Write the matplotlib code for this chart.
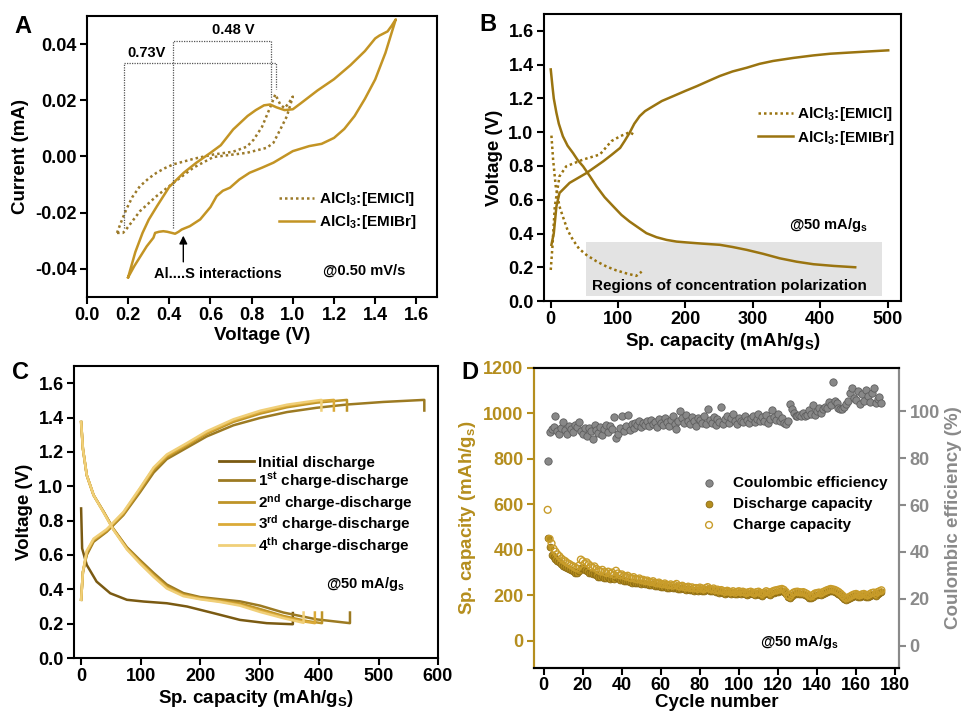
import matplotlib
matplotlib.use('Agg')
import matplotlib.pyplot as plt
from matplotlib.lines import Line2D
from matplotlib.patches import Rectangle

plt.rcParams['font.family'] = ['Liberation Sans', 'DejaVu Sans']
plt.rcParams['font.weight'] = 'bold'
plt.rcParams['axes.labelweight'] = 'bold'
plt.rcParams['axes.unicode_minus'] = False
plt.rcParams['mathtext.fontset'] = 'custom'
plt.rcParams['mathtext.rm'] = 'Liberation Sans:bold'
plt.rcParams['mathtext.it'] = 'Liberation Sans:bold'
plt.rcParams['mathtext.bf'] = 'Liberation Sans:bold'
plt.rcParams['mathtext.default'] = 'rm'

# ---------------- A: cyclic voltammetry ----------------
emibr_v = [0.200, 0.23, 0.26, 0.29, 0.323, 0.331, 0.35, 0.371, 0.39, 0.412, 0.428, 0.445, 0.46,
           0.50, 0.55, 0.60, 0.63, 0.66, 0.695, 0.74, 0.79, 0.85, 0.906, 1.0, 1.08, 1.14, 1.2,
           1.25, 1.3, 1.35, 1.4, 1.45, 1.50,
           1.48, 1.46, 1.42, 1.40, 1.35, 1.28, 1.20, 1.12, 1.04, 1.0, 0.96, 0.92, 0.89, 0.86,
           0.82, 0.78, 0.71, 0.65, 0.60, 0.53, 0.47, 0.40, 0.34, 0.30, 0.27, 0.235, 0.2]
emibr_i = [-0.043, -0.039, -0.0355, -0.032, -0.0289, -0.0272, -0.0268, -0.0266, -0.0268, -0.0272,
           -0.0275, -0.0268, -0.026, -0.0248, -0.0224, -0.018, -0.0141, -0.0122, -0.0111, -0.0082,
           -0.0058, -0.0040, -0.0022, 0.0019, 0.0037, 0.0045, 0.0066, 0.0098, 0.0144, 0.0205,
           0.0274, 0.0369, 0.0488,
           0.0465, 0.0445, 0.0430, 0.0420, 0.0375, 0.0325, 0.0275, 0.0235, 0.0190, 0.0168, 0.0165,
           0.0175, 0.0185, 0.0182, 0.0165, 0.0144, 0.0096, 0.0040, 0.0013, -0.0023, -0.0058,
           -0.0108, -0.0177, -0.0225, -0.0272, -0.034, -0.043]
emicl_v = [0.146, 0.165, 0.19, 0.22, 0.257, 0.30, 0.338, 0.38, 0.42, 0.52, 0.614, 0.71, 0.777,
           0.81, 0.85, 0.89, 0.915, 0.939, 0.96, 0.98, 1.0,
           0.971, 0.939, 0.906, 0.874, 0.777, 0.614, 0.517, 0.42, 0.338, 0.257, 0.19, 0.175, 0.146]
emicl_i = [-0.0272, -0.0235, -0.019, -0.0145, -0.0106, -0.0078, -0.0058, -0.0041, -0.0028, -0.0008,
           0.0007, 0.0017, 0.0035, 0.006, 0.0105, 0.0175, 0.0221, 0.0185, 0.0172, 0.019, 0.0213,
           0.0143, 0.0096, 0.0049, 0.0031, 0.0013, -0.0002, -0.004, -0.0094, -0.0141, -0.0195,
           -0.026, -0.0272, -0.0272]
bracket_073 = ([0.179, 0.179, 0.919, 0.919], [-0.0254, 0.0331, 0.0331, 0.0239])
bracket_048 = ([0.416, 0.416, 0.893, 0.893], [-0.0254, 0.0411, 0.0411, 0.0203])

# ---------------- B: charge/discharge profiles ----------------
b_br_ch_cap = [1, 4.5, 8.4, 13, 28, 53, 78, 90, 103, 110, 117, 124, 132, 140, 152, 165, 182, 200,
               217, 235, 251, 270, 291, 310, 330, 360, 390, 415, 440, 470, 501]
b_br_ch_v = [0.333, 0.40, 0.56, 0.64, 0.70, 0.758, 0.828, 0.865, 0.907, 0.95, 0.996, 1.05, 1.095,
             1.125, 1.154, 1.185, 1.214, 1.245, 1.273, 1.305, 1.333, 1.36, 1.382, 1.405, 1.422,
             1.44, 1.455, 1.465, 1.471, 1.478, 1.485]
b_br_dis_cap = [0, 2.5, 4.5, 8.4, 12, 18, 25, 33, 40, 48, 58, 68, 80, 93, 105, 117, 130, 142,
                157, 172, 187, 202, 225, 251, 270, 291, 315, 340, 365, 390, 420, 452]
b_br_dis_v = [1.372, 1.273, 1.2, 1.115, 1.05, 0.976, 0.92, 0.877, 0.835, 0.798, 0.74, 0.679, 0.615,
              0.56, 0.51, 0.471, 0.435, 0.402, 0.378, 0.362, 0.352, 0.347, 0.34, 0.333, 0.32,
              0.303, 0.28, 0.253, 0.233, 0.218, 0.208, 0.2]
b_cl_ch_cap = [0, 2.5, 6, 13, 23, 48, 73, 90, 103, 117, 126]
b_cl_ch_v = [0.184, 0.323, 0.56, 0.739, 0.798, 0.838, 0.868, 0.947, 0.976, 1.0, 0.98]
b_cl_dis_cap = [1, 3.5, 7.4, 13, 18, 25, 33, 42, 53, 68, 83, 97, 112, 127, 135]
b_cl_dis_v = [0.98, 0.838, 0.68, 0.56, 0.50, 0.42, 0.362, 0.31, 0.273, 0.235, 0.204, 0.182, 0.164,
              0.149, 0.174]

# ---------------- C: first cycles ----------------
c_labels = ['Initial discharge', '1$^{st}$ charge-discharge', '2$^{nd}$ charge-discharge',
            '3$^{rd}$ charge-discharge', '4$^{th}$ charge-discharge']
c_colors = ['#7A5A12', '#9C7A22', '#BE9428', '#DBAA38', '#F0CF78']
c_ch_cap = [
    None,
    [0, 3, 9.5, 21, 43, 71, 99, 122, 144, 178, 211, 256, 301, 346, 396, 447, 508, 577, 577],
    [0, 3, 9.5, 21, 43, 71, 99, 122, 144, 178, 211, 256, 301, 346, 396, 447, 447],
    [0, 3, 9.5, 21, 43, 71, 99, 122, 144, 178, 211, 256, 301, 346, 396, 425, 425],
    [0, 3, 9.5, 21, 43, 71, 99, 122, 144, 178, 211, 256, 301, 346, 380, 404, 404],
]
c_ch_v = [
    None,
    [0.339, 0.50, 0.60, 0.677, 0.735, 0.832, 0.965, 1.08, 1.158, 1.225, 1.29, 1.355, 1.398, 1.432,
     1.457, 1.476, 1.491, 1.503, 1.441],
    [0.339, 0.50, 0.61, 0.685, 0.74, 0.838, 0.975, 1.095, 1.17, 1.238, 1.305, 1.375, 1.423, 1.46,
     1.487, 1.503, 1.441],
    [0.339, 0.50, 0.62, 0.69, 0.745, 0.845, 0.985, 1.105, 1.178, 1.245, 1.312, 1.383, 1.432, 1.468,
     1.495, 1.503, 1.441],
    [0.339, 0.50, 0.625, 0.695, 0.75, 0.85, 0.99, 1.11, 1.185, 1.252, 1.32, 1.39, 1.44, 1.475,
     1.492, 1.503, 1.441],
]
c_dis_cap = [
    [0, 1.7, 9.5, 26, 49, 77, 105, 144, 178, 223, 267, 312, 354, 356, 356],
    [0, 3, 9.5, 21, 38, 54, 77, 99, 122, 144, 172, 200, 234, 267, 301, 340, 396, 452, 452],
    [0, 3, 9.5, 21, 38, 54, 77, 99, 122, 144, 172, 200, 234, 267, 301, 340, 380, 405, 405],
    [0, 3, 9.5, 21, 38, 54, 77, 99, 122, 144, 172, 200, 234, 267, 301, 340, 370, 393, 393],
    [0, 3, 9.5, 21, 38, 54, 77, 99, 122, 144, 172, 200, 234, 267, 301, 340, 374, 374],
]
c_dis_v = [
    [0.871, 0.638, 0.542, 0.445, 0.377, 0.339, 0.329, 0.319, 0.30, 0.261, 0.222, 0.203, 0.197,
     0.197, 0.262],
    [1.374, 1.219, 1.064, 0.948, 0.851, 0.754, 0.645, 0.57, 0.495, 0.428, 0.378, 0.355, 0.342,
     0.33, 0.305, 0.265, 0.225, 0.203, 0.265],
    [1.374, 1.219, 1.064, 0.948, 0.85, 0.752, 0.64, 0.562, 0.485, 0.418, 0.37, 0.35, 0.335,
     0.318, 0.285, 0.245, 0.215, 0.203, 0.265],
    [1.374, 1.219, 1.064, 0.948, 0.848, 0.75, 0.636, 0.556, 0.478, 0.41, 0.365, 0.345, 0.33,
     0.31, 0.275, 0.238, 0.215, 0.203, 0.265],
    [1.374, 1.219, 1.064, 0.948, 0.846, 0.748, 0.632, 0.55, 0.472, 0.405, 0.36, 0.342, 0.326,
     0.305, 0.268, 0.232, 0.205, 0.265],
]

# ---------------- D: cycling ----------------
cycles = list(range(2, 174))
ce = [78.7, 91.0, 92.5, 93.5, 98.2, 91.8, 90.5, 93.0, 95.5, 92.0,
      90.2, 93.8, 92.5, 91.0, 94.0, 93.2, 95.6, 91.5, 90.2, 92.8,
      89.5, 93.0, 91.8, 88.4, 94.2, 92.0, 90.8, 93.5, 89.8, 92.6,
      94.0, 91.2, 93.8, 92.5, 97.4, 88.6, 90.5, 92.8, 97.9, 91.5,
      93.6, 98.6, 92.2, 94.5, 93.0, 95.2, 94.0, 96.0, 93.5, 95.0,
      94.2, 95.8, 93.8, 96.2, 94.8, 95.5, 93.2, 96.8, 95.0, 94.2,
      97.2, 95.5, 93.8, 96.5, 97.8, 94.6, 92.5, 96.0, 100.0, 97.0,
      95.2, 98.5, 96.0, 94.8, 97.5, 95.8, 93.6, 97.2, 96.5, 95.0,
      97.8, 94.5, 101.0, 96.2, 95.0, 97.5, 94.0, 96.8, 95.5, 101.7,
      94.8, 96.6, 98.0, 95.2, 97.0, 99.0, 96.0, 94.8, 97.2, 96.0,
      95.5, 97.8, 96.2, 95.0, 97.0, 98.2, 95.6, 96.8, 99.0, 95.8,
      97.4, 96.0, 98.5, 95.2, 96.8, 100.7, 97.5, 96.2, 98.8, 95.8,
      97.2, 95.0, 94.6, 96.0, 103.0, 101.0, 99.5, 98.2, 97.8, 98.5,
      98.0, 99.2, 97.8, 98.5, 100.5, 99.0, 102.8, 98.6, 100.0, 101.5,
      99.2, 100.8, 102.0, 101.5, 103.8, 102.6, 112.5, 104.5, 103.5, 101.4,
      100.8, 101.0, 102.0, 103.2, 104.5, 108.0, 110.0, 105.5, 104.8, 108.5,
      103.0, 107.5, 104.2, 109.0, 106.5, 104.0, 108.0, 110.0, 103.5, 105.2,
      106.0, 103.5]
charge_cap = [576, 448, 428, 405, 392, 380, 372, 362, 355, 350,
              342, 338, 332, 328, 322, 318, 330, 357, 350, 340,
              345, 336, 328, 322, 327, 316, 310, 305, 312, 302,
              298, 304, 295, 300, 290, 308, 296, 288, 292, 285,
              282, 286, 278, 275, 280, 272, 270, 274, 266, 268,
              262, 265, 260, 258, 262, 255, 252, 256, 250, 248,
              252, 246, 244, 248, 242, 245, 250, 240, 238, 242,
              236, 234, 238, 232, 235, 230, 232, 228, 234, 230,
              226, 232, 236, 228, 226, 230, 222, 225, 220, 223,
              218, 215, 220, 216, 214, 218, 212, 215, 218, 214,
              216, 212, 210, 214, 216, 212, 208, 214, 216, 210,
              206, 212, 218, 214, 210, 216, 220, 222, 224, 226,
              228, 224, 215, 200, 195, 205, 212, 215, 216, 214,
              212, 214, 210, 205, 198, 195, 202, 208, 210, 212,
              208, 214, 218, 222, 225, 228, 226, 224, 220, 215,
              208, 200, 192, 186, 190, 195, 200, 204, 206, 202,
              200, 204, 206, 202, 200, 205, 210, 212, 206, 214,
              218, 222]
discharge_cap = [452, 412, 378, 368, 358, 350, 345, 338, 330, 324,
                 318, 315, 310, 306, 300, 296, 305, 320, 318, 310,
                 305, 300, 296, 292, 295, 288, 282, 280, 284, 278,
                 275, 280, 272, 276, 270, 282, 274, 268, 270, 264,
                 262, 265, 258, 256, 260, 254, 252, 255, 250, 252,
                 248, 250, 246, 244, 248, 242, 240, 243, 238, 236,
                 240, 234, 232, 236, 230, 233, 238, 229, 227, 230,
                 226, 224, 228, 222, 225, 220, 223, 219, 224, 221,
                 218, 223, 226, 220, 218, 222, 214, 217, 212, 215,
                 210, 207, 212, 208, 206, 210, 204, 207, 210, 206,
                 208, 204, 202, 206, 208, 204, 200, 206, 208, 202,
                 198, 204, 210, 206, 202, 208, 212, 214, 216, 218,
                 220, 216, 207, 192, 187, 197, 204, 207, 208, 206,
                 204, 206, 202, 197, 190, 187, 194, 200, 202, 204,
                 200, 206, 210, 214, 217, 220, 218, 216, 212, 207,
                 200, 192, 184, 178, 182, 187, 192, 196, 198, 194,
                 192, 196, 198, 194, 192, 197, 202, 204, 198, 206,
                 210, 214]

GOLD_A = '#C39424'
GOLD_A_DOT = '#9C7A2A'
GOLD_B = '#9A7410'
GOLD_D = '#B58E1E'
GRAY_D = '#8A8A8A'


def style_axes(ax):
    for s in ax.spines.values():
        s.set_linewidth(1.5)
    ax.tick_params(direction='out', length=5, width=1.5, labelsize=13, pad=2.5,
                   top=False, right=False)


fig = plt.figure(figsize=(9.62, 7.13), dpi=100)

# ---- A ----
axA = fig.add_axes([0.0904, 0.5835, 0.3638, 0.3941])
axA.plot(emicl_v, emicl_i, color=GOLD_A_DOT, lw=1.8, ls=(0, (1, 1.2)), label='AlCl$_3$:[EMICl]')
axA.plot(emibr_v, emibr_i, color=GOLD_A, lw=1.8, label='AlCl$_3$:[EMIBr]')
axA.plot(*bracket_073, color='#555555', lw=0.9, ls=(0, (1, 1)))
axA.plot(*bracket_048, color='#555555', lw=0.9, ls=(0, (1, 1)))
axA.text(0.29, 0.0369, '0.73V', fontsize=10.5, ha='center', va='center')
axA.text(0.711, 0.045, '0.48 V', fontsize=10.5, ha='center', va='center')
axA.annotate('', xy=(0.468, -0.0272), xytext=(0.468, -0.0385),
             arrowprops=dict(arrowstyle='-|>', color='black', lw=1.0, mutation_scale=12))
axA.text(0.638, -0.0417, 'Al....S interactions', fontsize=10.5, ha='center', va='center')
axA.text(1.345, -0.0405, '@0.50 mV/s', fontsize=10.5, ha='center', va='center')
axA.set_xlim(0, 1.7)
axA.set_ylim(-0.05, 0.05)
axA.set_xticks([0.0, 0.2, 0.4, 0.6, 0.8, 1.0, 1.2, 1.4, 1.6])
axA.set_xticklabels(['0.0', '0.2', '0.4', '0.6', '0.8', '1.0', '1.2', '1.4', '1.6'])
axA.set_yticks([-0.04, -0.02, 0.0, 0.02, 0.04])
axA.set_yticklabels(['-0.04', '-0.02', '0.00', '0.02', '0.04'])
axA.set_xlabel('Voltage (V)', fontsize=13.5, labelpad=2)
axA.set_ylabel('Current (mA)', fontsize=13.5)
style_axes(axA)
axA.legend(loc='upper left', bbox_to_anchor=(0.51, 0.43), frameon=False, fontsize=11,
           handlelength=2.3, handletextpad=0.3, labelspacing=0.35)

# ---- B ----
axB = fig.add_axes([0.5655, 0.5778, 0.3711, 0.4025])
axB.add_patch(Rectangle((52, 0.032), 440, 0.317, facecolor='#E3E3E3', edgecolor='none', zorder=0))
axB.plot(b_cl_dis_cap, b_cl_dis_v, color=GOLD_B, lw=1.8, ls=(0, (1, 1.2)))
axB.plot(b_cl_ch_cap, b_cl_ch_v, color=GOLD_B, lw=1.8, ls=(0, (1, 1.2)), label='AlCl$_3$:[EMICl]')
axB.plot(b_br_dis_cap, b_br_dis_v, color=GOLD_B, lw=1.8)
axB.plot(b_br_ch_cap, b_br_ch_v, color=GOLD_B, lw=1.8, label='AlCl$_3$:[EMIBr]')
axB.text(265, 0.089, 'Regions of concentration polarization', fontsize=11, ha='center', va='center')
axB.text(412, 0.45, '@50 mA/g$_s$', fontsize=10.5, ha='center', va='center')
axB.set_xlim(-10, 520)
axB.set_ylim(0, 1.7)
axB.set_xticks([0, 100, 200, 300, 400, 500])
axB.set_yticks([0.0, 0.2, 0.4, 0.6, 0.8, 1.0, 1.2, 1.4, 1.6])
axB.set_yticklabels(['0.0', '0.2', '0.4', '0.6', '0.8', '1.0', '1.2', '1.4', '1.6'])
axB.set_xlabel('Sp. capacity (mAh/g$_S$)', fontsize=13.5, labelpad=2)
axB.set_ylabel('Voltage (V)', fontsize=13.5)
style_axes(axB)
axB.legend(loc='upper left', bbox_to_anchor=(0.56, 0.73), frameon=False, fontsize=11,
           handlelength=2.3, handletextpad=0.3, labelspacing=0.35)

# ---- C ----
axC = fig.add_axes([0.0769, 0.0771, 0.3784, 0.4095])
handles = []
for k in range(5):
    axC.plot(c_dis_cap[k], c_dis_v[k], color=c_colors[k], lw=1.8)
    if c_ch_cap[k] is not None:
        axC.plot(c_ch_cap[k], c_ch_v[k], color=c_colors[k], lw=1.8)
    handles.append(Line2D([], [], color=c_colors[k], lw=2))
axC.text(477, 0.43, '@50 mA/g$_s$', fontsize=10.5, ha='center', va='center')
axC.set_xlim(-12, 600)
axC.set_ylim(0, 1.7)
axC.set_xticks([0, 100, 200, 300, 400, 500, 600])
axC.set_yticks([0.0, 0.2, 0.4, 0.6, 0.8, 1.0, 1.2, 1.4, 1.6])
axC.set_yticklabels(['0.0', '0.2', '0.4', '0.6', '0.8', '1.0', '1.2', '1.4', '1.6'])
axC.set_xlabel('Sp. capacity (mAh/g$_S$)', fontsize=13.5, labelpad=2)
axC.set_ylabel('Voltage (V)', fontsize=13.5)
style_axes(axC)
axC.legend(handles, c_labels, loc='upper left', bbox_to_anchor=(0.36, 0.74), frameon=False,
           fontsize=11, handlelength=2.3, handletextpad=0.3, labelspacing=0.05)

# ---- D ----
axD = fig.add_axes([0.5551, 0.0631, 0.3794, 0.4208])
axD2 = axD.twinx()
hd = axD.scatter(cycles, discharge_cap, s=24, color=GOLD_D, edgecolor='#8C6A12', linewidth=0.6,
                 zorder=3, label='Discharge capacity')
hc = axD.scatter(cycles, charge_cap, s=24, facecolor='none', edgecolor='#C89C2A', linewidth=1.0,
                 zorder=4, label='Charge capacity')
he = axD2.scatter(cycles, ce, s=28, color='#888888', edgecolor='#5E5E5E', linewidth=0.6,
                  label='Coulombic efficiency')
axD.text(131, -5, '@50 mA/g$_s$', fontsize=10.5, ha='center', va='center')
axD.set_xlim(-5, 182)
axD.set_ylim(-120, 1200)
axD2.set_ylim(-9.5, 118.5)
axD.set_xticks(range(0, 181, 20))
axD.set_yticks(range(0, 1201, 200))
axD2.set_yticks(range(0, 101, 20))
axD.set_xlabel('Cycle number', fontsize=13.5, labelpad=0)
axD.set_ylabel('Sp. capacity (mAh/g$_s$)', fontsize=13.5, color=GOLD_D)
axD2.set_ylabel('Coulombic efficiency (%)', fontsize=13.5, color=GRAY_D)
style_axes(axD)
style_axes(axD2)
axD.tick_params(axis='x', pad=1.5)
axD.spines['left'].set_color(GOLD_D)
axD2.spines['left'].set_color(GOLD_D)
axD.spines['right'].set_color(GRAY_D)
axD2.spines['right'].set_color(GRAY_D)
axD.tick_params(axis='y', colors=GOLD_D)
axD2.tick_params(axis='y', right=True, colors=GRAY_D)
axD2.legend([he, hd, hc], ['Coulombic efficiency', 'Discharge capacity', 'Charge capacity'],
            loc='upper left', bbox_to_anchor=(0.40, 0.685), frameon=False, fontsize=11,
            handletextpad=0.6, labelspacing=0.45, scatterpoints=1)

for txt, x, y in [('A', 0.024, 0.963), ('B', 0.507, 0.965), ('C', 0.021, 0.477), ('D', 0.489, 0.477)]:
    fig.text(x, y, txt, fontsize=17, fontweight='bold', ha='center', va='center')

fig.savefig('out.png', dpi=100)
